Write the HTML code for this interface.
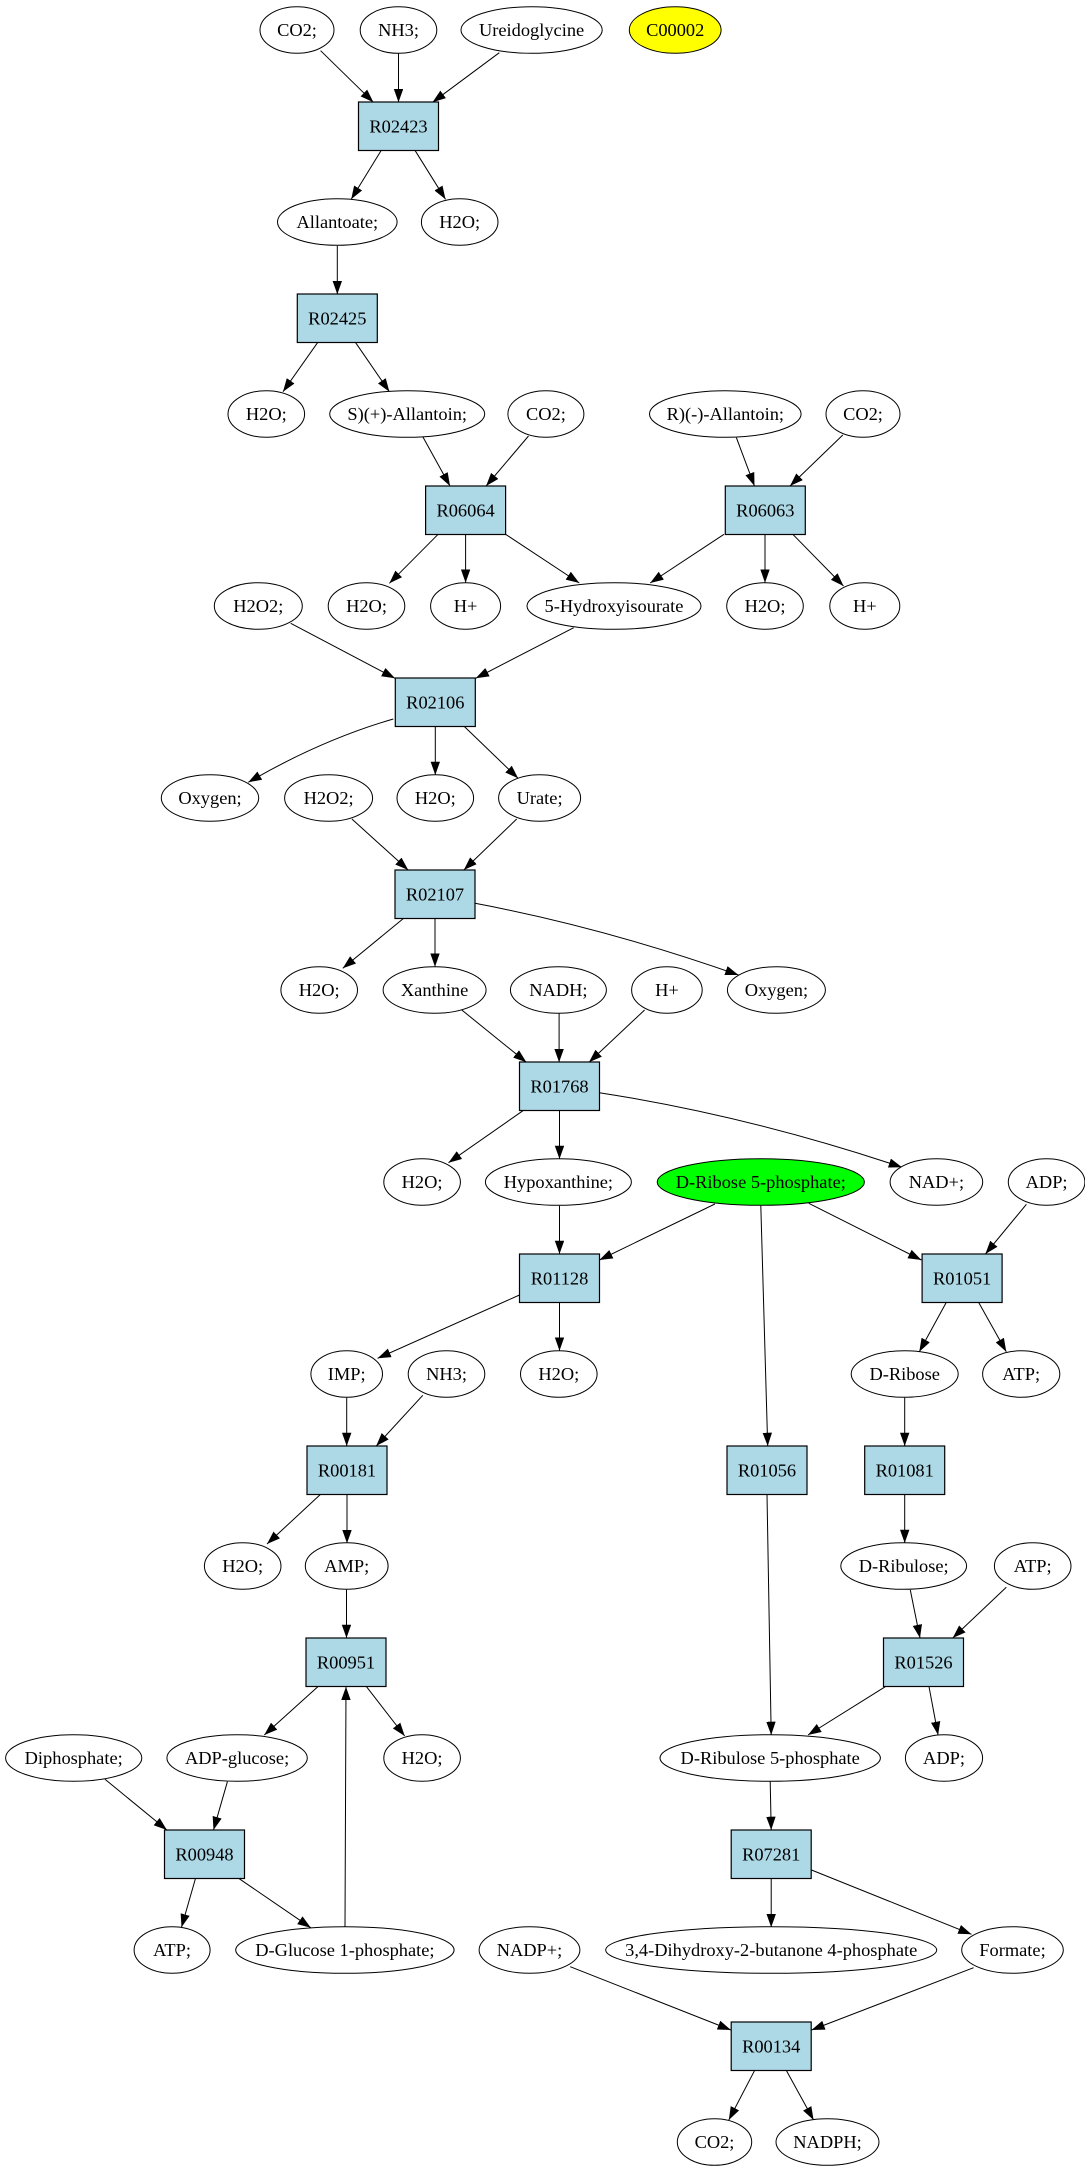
<!DOCTYPE html>
<html>
<head>
<meta charset="utf-8">
<style>
html,body{margin:0;padding:0;background:#fff;}
svg{display:block;}
text{font-family:"Liberation Serif",serif;font-size:18.4px;fill:#000;}
</style>
</head>
<body>
<svg xmlns="http://www.w3.org/2000/svg" width="1085" height="2171" viewBox="0 0 1085 2171">
<defs>
<marker id="a" markerUnits="userSpaceOnUse" markerWidth="14" markerHeight="10" refX="13.3" refY="4.7" orient="auto">
<path d="M0,0 L13.3,4.7 L0,9.4 z" fill="#000"/>
</marker>
</defs>
<rect width="1085" height="2171" fill="#fff"/>

<g fill="none" stroke="#000" stroke-width="1" marker-end="url(#a)">
<path d="M320.6,50.7 L373.4,102.3"/>
<path d="M398.5,53.3 L398.5,102.3"/>
<path d="M499.3,52.7 L432.5,102.3"/>
<path d="M381,150.7 L351.2,199.3"/>
<path d="M415.2,150.7 L445.5,199.3"/>
<path d="M337.3,245.7 L337.3,294.3"/>
<path d="M317.8,342.3 L283,391.7"/>
<path d="M355.4,342.3 L389.4,391.7"/>
<path d="M422.8,436.7 L450,486"/>
<path d="M528.5,436 L486.1,486"/>
<path d="M736.4,437.7 L754.5,486"/>
<path d="M842.8,435 L790,486"/>
<path d="M438.1,534.3 L389.4,583.3"/>
<path d="M465.6,534.3 L465.6,582.7"/>
<path d="M505.6,534.3 L579.3,583"/>
<path d="M724,534.3 L650.2,583"/>
<path d="M765,534.3 L765,582.7"/>
<path d="M792.8,534.3 L843.5,586"/>
<path d="M290.7,623.3 L395,678.3"/>
<path d="M573.7,627.7 L475.7,678.3"/>
<path d="M393.3,719 Q321,740 248.3,782.3"/>
<path d="M435.3,726 L435.3,775"/>
<path d="M463.8,726 L518.1,778.3"/>
<path d="M351.9,819 L408.2,870"/>
<path d="M516.7,819 L463.8,870"/>
<path d="M404,918 L342.8,968.3"/>
<path d="M435,918 L435,966.7"/>
<path d="M475,903.3 Q603.3,927.4 738.5,975"/>
<path d="M461.8,1010 L526.4,1062.3"/>
<path d="M559.1,1013.3 L559.1,1062.3"/>
<path d="M644.6,1010 L589,1062.3"/>
<path d="M523,1110.7 L448.5,1162.7"/>
<path d="M559.5,1110 L559.5,1159"/>
<path d="M599.4,1092.7 Q749.3,1116 902,1167.3"/>
<path d="M559.5,1205.7 L559.5,1254"/>
<path d="M714.9,1204 L599.4,1260"/>
<path d="M760.8,1205.7 L767.7,1446"/>
<path d="M808.8,1203.3 L921.4,1260"/>
<path d="M1026.4,1204.3 L985.4,1254"/>
<path d="M519.5,1295 L377.6,1358.3"/>
<path d="M559.5,1302 L559.5,1350.7"/>
<path d="M946.5,1302 L919.3,1351.7"/>
<path d="M978.4,1302 L1006.3,1351.7"/>
<path d="M346.7,1397.7 L346.7,1446"/>
<path d="M422.8,1395.3 L376.2,1446"/>
<path d="M904.7,1397.7 L904.7,1446"/>
<path d="M320.6,1494.3 L267,1544"/>
<path d="M347,1494.3 L347,1543.3"/>
<path d="M904.7,1494.3 L904.7,1543"/>
<path d="M346.5,1589.7 L346.5,1638"/>
<path d="M910.3,1590 L920,1638"/>
<path d="M1006.3,1587.3 L952.7,1638"/>
<path d="M317.8,1686.7 L264.3,1735"/>
<path d="M366.5,1686.7 L404.7,1736"/>
<path d="M345,1927 L346,1686.7"/>
<path d="M767,1494.3 L771.2,1735"/>
<path d="M885.3,1686.7 L808,1735"/>
<path d="M929,1686.7 L938.1,1735"/>
<path d="M105,1779.3 L166.9,1830"/>
<path d="M227.4,1781.7 L213.5,1830"/>
<path d="M770.2,1781.3 L771.2,1830"/>
<path d="M195.4,1878.7 L181.5,1927.3"/>
<path d="M239.2,1878.7 L310.8,1927.7"/>
<path d="M771.2,1878.7 L771.2,1927.3"/>
<path d="M811.5,1870 L971.5,1934.3"/>
<path d="M570.2,1966.7 L730.9,2030"/>
<path d="M973.6,1967.7 L811.5,2030"/>
<path d="M754.5,2070.7 L728.8,2120"/>
<path d="M786.5,2070.7 L813.6,2120"/>
</g>

<!-- boxes -->
<g fill="#add8e6" stroke="#000" stroke-width="1.2">
<rect x="358.5" y="102" width="80" height="48.5"/>
<rect x="297.3" y="294" width="80" height="48.5"/>
<rect x="425.6" y="486" width="80" height="48.5"/>
<rect x="725.3" y="486" width="80" height="48.5"/>
<rect x="395.3" y="678" width="80" height="48.5"/>
<rect x="395" y="870" width="80" height="48.5"/>
<rect x="519.5" y="1062" width="80" height="48.5"/>
<rect x="519.5" y="1254" width="80" height="48.5"/>
<rect x="922.1" y="1254" width="80" height="48.5"/>
<rect x="307" y="1446" width="80" height="48.5"/>
<rect x="727" y="1446" width="80" height="48.5"/>
<rect x="864.7" y="1446" width="80" height="48.5"/>
<rect x="306" y="1638" width="80" height="48.5"/>
<rect x="883.5" y="1638" width="80" height="48.5"/>
<rect x="164.5" y="1830" width="80" height="48.5"/>
<rect x="731.2" y="1830" width="80" height="48.5"/>
<rect x="731.2" y="2022" width="80" height="48.5"/>
</g>

<!-- ellipses -->
<g fill="#fff" stroke="#000" stroke-width="1">
<ellipse cx="297" cy="30" rx="37" ry="23.3"/>
<ellipse cx="398.5" cy="30" rx="38.3" ry="23.3"/>
<ellipse cx="531.6" cy="30" rx="70.6" ry="23.3"/>
<ellipse cx="675.2" cy="30" rx="45.9" ry="23.3" fill="#ffff00"/>

<ellipse cx="337.3" cy="222" rx="59.8" ry="23.3"/>
<ellipse cx="459.7" cy="222" rx="38.3" ry="23.3"/>

<ellipse cx="266.3" cy="414" rx="38.3" ry="23.3"/>
<ellipse cx="407.2" cy="414" rx="77.5" ry="23.3"/>
<ellipse cx="545.9" cy="414" rx="38" ry="23.3"/>
<ellipse cx="725.3" cy="414" rx="75.8" ry="23.3"/>
<ellipse cx="863" cy="414" rx="37" ry="23.3"/>

<ellipse cx="258.3" cy="606" rx="44" ry="23.3"/>
<ellipse cx="366.5" cy="606" rx="38.3" ry="23.3"/>
<ellipse cx="465.6" cy="606" rx="35" ry="23.3"/>
<ellipse cx="614" cy="606" rx="87" ry="23.3"/>
<ellipse cx="765" cy="606" rx="38.3" ry="23.3"/>
<ellipse cx="864.8" cy="606" rx="35" ry="23.3"/>

<ellipse cx="210" cy="798" rx="48.7" ry="23.3"/>
<ellipse cx="328.6" cy="798" rx="44" ry="23.3"/>
<ellipse cx="435.3" cy="798" rx="38.3" ry="23.3"/>
<ellipse cx="539.6" cy="798" rx="41" ry="23.3"/>

<ellipse cx="319.2" cy="990" rx="38.3" ry="23.3"/>
<ellipse cx="434.6" cy="990" rx="51.5" ry="23.3"/>
<ellipse cx="558.4" cy="990" rx="48" ry="23.3"/>
<ellipse cx="666.9" cy="990" rx="35.3" ry="23.3"/>
<ellipse cx="776.4" cy="990" rx="49" ry="23.3"/>

<ellipse cx="422.1" cy="1182" rx="38.3" ry="23.3"/>
<ellipse cx="558.4" cy="1182" rx="73" ry="23.3"/>
<ellipse cx="760.8" cy="1182" rx="103.6" ry="23.3" fill="#00ff00"/>
<ellipse cx="936.4" cy="1182" rx="46.3" ry="23.3"/>
<ellipse cx="1046.6" cy="1182" rx="38.3" ry="23.3"/>

<ellipse cx="346.7" cy="1374" rx="35.8" ry="23.3"/>
<ellipse cx="446.5" cy="1374" rx="38.3" ry="23.3"/>
<ellipse cx="558.8" cy="1374" rx="38.3" ry="23.3"/>
<ellipse cx="904.7" cy="1374" rx="53.5" ry="23.3"/>
<ellipse cx="1021.2" cy="1374" rx="38.6" ry="23.3"/>

<ellipse cx="242.7" cy="1566" rx="38.3" ry="23.3"/>
<ellipse cx="346.7" cy="1566" rx="41.4" ry="23.3"/>
<ellipse cx="903.7" cy="1566" rx="62.9" ry="23.3"/>
<ellipse cx="1032.7" cy="1566" rx="38.3" ry="23.3"/>

<ellipse cx="73.7" cy="1758" rx="68.1" ry="23.3"/>
<ellipse cx="237.1" cy="1758" rx="70.2" ry="23.3"/>
<ellipse cx="422.1" cy="1758" rx="38.3" ry="23.3"/>
<ellipse cx="770.2" cy="1758" rx="110.2" ry="23.3"/>
<ellipse cx="944" cy="1758" rx="38.6" ry="23.3"/>

<ellipse cx="172.1" cy="1950" rx="38" ry="23.3"/>
<ellipse cx="344.9" cy="1950" rx="109.2" ry="23.3"/>
<ellipse cx="529.5" cy="1950" rx="50.4" ry="23.3"/>
<ellipse cx="771.2" cy="1950" rx="165.5" ry="23.3"/>
<ellipse cx="1012.5" cy="1950" rx="50.8" ry="23.3"/>

<ellipse cx="714.5" cy="2142" rx="37.2" ry="23.3"/>
<ellipse cx="827.5" cy="2142" rx="51.5" ry="23.3"/>
</g>

<g text-anchor="middle">
<!-- box labels -->
<text x="398.5" y="132.5">R02423</text>
<text x="337.3" y="324.5">R02425</text>
<text x="465.6" y="516.5">R06064</text>
<text x="765.3" y="516.5">R06063</text>
<text x="435.3" y="708.5">R02106</text>
<text x="435" y="900.5">R02107</text>
<text x="559.5" y="1092.5">R01768</text>
<text x="559.5" y="1284.5">R01128</text>
<text x="962.1" y="1284.5">R01051</text>
<text x="347" y="1476.5">R00181</text>
<text x="767" y="1476.5">R01056</text>
<text x="904.7" y="1476.5">R01081</text>
<text x="346" y="1668.5">R00951</text>
<text x="923.5" y="1668.5">R01526</text>
<text x="204.5" y="1860.5">R00948</text>
<text x="771.2" y="1860.5">R07281</text>
<text x="771.2" y="2052.5">R00134</text>

<!-- ellipse labels -->
<text x="297" y="36">CO2;</text>
<text x="398.5" y="36">NH3;</text>
<text x="531.6" y="36">Ureidoglycine</text>
<text x="675.2" y="36">C00002</text>

<text x="337.3" y="228">Allantoate;</text>
<text x="459.7" y="228">H2O;</text>

<text x="266.3" y="420">H2O;</text>
<text x="407.2" y="420">S)(+)-Allantoin;</text>
<text x="545.9" y="420">CO2;</text>
<text x="725.3" y="420">R)(-)-Allantoin;</text>
<text x="863" y="420">CO2;</text>

<text x="258.3" y="612">H2O2;</text>
<text x="366.5" y="612">H2O;</text>
<text x="465.6" y="612">H+</text>
<text x="614" y="612">5-Hydroxyisourate</text>
<text x="765" y="612">H2O;</text>
<text x="864.8" y="612">H+</text>

<text x="210" y="804">Oxygen;</text>
<text x="328.6" y="804">H2O2;</text>
<text x="435.3" y="804">H2O;</text>
<text x="539.6" y="804">Urate;</text>

<text x="319.2" y="996">H2O;</text>
<text x="434.6" y="996">Xanthine</text>
<text x="558.4" y="996">NADH;</text>
<text x="666.9" y="996">H+</text>
<text x="776.4" y="996">Oxygen;</text>

<text x="422.1" y="1188">H2O;</text>
<text x="558.4" y="1188">Hypoxanthine;</text>
<text x="760.8" y="1188">D-Ribose 5-phosphate;</text>
<text x="936.4" y="1188">NAD+;</text>
<text x="1046.6" y="1188">ADP;</text>

<text x="346.7" y="1380">IMP;</text>
<text x="446.5" y="1380">NH3;</text>
<text x="558.8" y="1380">H2O;</text>
<text x="904.7" y="1380">D-Ribose</text>
<text x="1021.2" y="1380">ATP;</text>

<text x="242.7" y="1572">H2O;</text>
<text x="346.7" y="1572">AMP;</text>
<text x="903.7" y="1572">D-Ribulose;</text>
<text x="1032.7" y="1572">ATP;</text>

<text x="73.7" y="1764">Diphosphate;</text>
<text x="237.1" y="1764">ADP-glucose;</text>
<text x="422.1" y="1764">H2O;</text>
<text x="770.2" y="1764">D-Ribulose 5-phosphate</text>
<text x="944" y="1764">ADP;</text>

<text x="172.1" y="1956">ATP;</text>
<text x="344.9" y="1956">D-Glucose 1-phosphate;</text>
<text x="529.5" y="1956">NADP+;</text>
<text x="771.2" y="1956">3,4-Dihydroxy-2-butanone 4-phosphate</text>
<text x="1012.5" y="1956">Formate;</text>

<text x="714.5" y="2148">CO2;</text>
<text x="827.5" y="2148">NADPH;</text>
</g>
</svg>
</body>
</html>
